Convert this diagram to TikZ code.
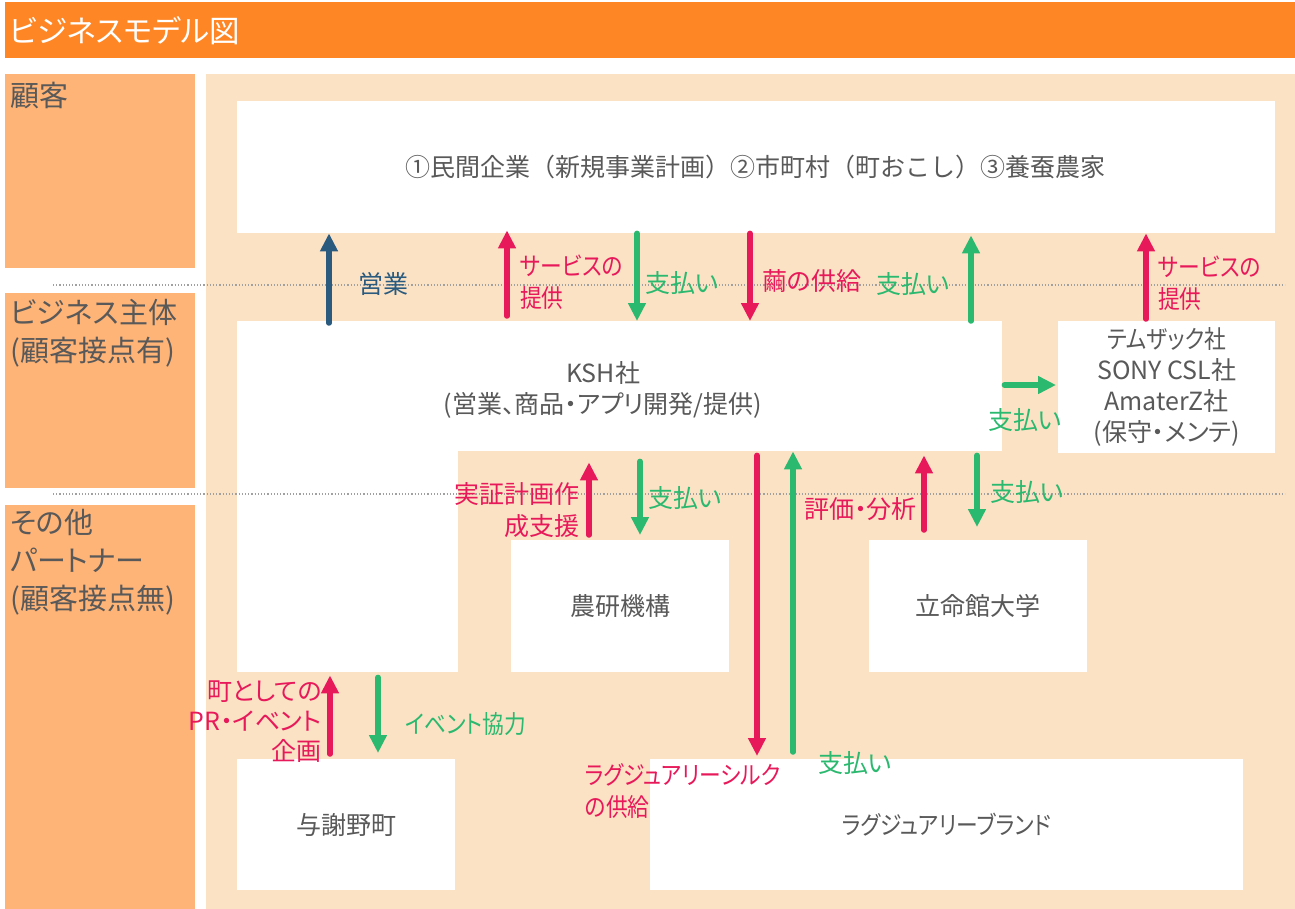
\documentclass[tikz,border=0pt]{standalone}
\usepackage{fontspec}
\setmainfont{Noto Sans CJK JP}
\newfontfamily\pfont{Noto Sans CJK JP}[RawFeature=+palt]
\newfontfamily\kfont{Noto Sans CJK JP}[RawFeature=+palt, FakeStretch=0.87]
\usetikzlibrary{arrows.meta,calc}
\definecolor{titleor}{HTML}{FF8624}
\definecolor{leftor}{HTML}{FFB477}
\definecolor{peach}{HTML}{FBE2C5}
\definecolor{txtgray}{HTML}{595959}
\definecolor{ared}{HTML}{E8195A}
\definecolor{agreen}{HTML}{2BB96F}
\definecolor{ablue}{HTML}{2A5A7E}
\definecolor{dotgray}{HTML}{A0A0A0}
\begin{document}
\begin{tikzpicture}[x=1pt,y=-1pt,
  wbox/.style={fill=white, draw=none, inner sep=0pt, anchor=north west},
  btext/.style={text=txtgray, font=\pfont\fontsize{25}{31}\selectfont, align=center, inner sep=0pt},
  lbox/.style={fill=leftor, draw=none, inner sep=0pt, anchor=north west},
  ltext/.style={text=txtgray, font=\pfont\fontsize{29}{38}\selectfont, align=left, inner sep=0pt, anchor=north west},
  arr/.style={line width=5.5pt, line cap=round, -{Triangle[width=17pt,length=18pt]}},
  lab/.style={font=\pfont\fontsize{25}{32}\selectfont, inner sep=0pt},
  klab/.style={font=\kfont\fontsize{25}{32}\selectfont, inner sep=0pt},
  dotline/.style={dotgray, line width=1.2pt, dash pattern=on 1.2pt off 2pt}
]
\useasboundingbox (0,0) rectangle (1295,909);
% title bar
\fill[titleor] (5,2) rectangle (1295,58);
\node[anchor=west, text=white, font=\pfont\fontsize{30.5}{36}\selectfont, inner sep=0pt] (title) at (9,31) {ビジネスモデル図};
% left column
\node[lbox, minimum width=190pt, minimum height=194pt] (lc1) at (5,74) {};
\node[lbox, minimum width=190pt, minimum height=195pt] (lc2) at (5,293) {};
\node[lbox, minimum width=190pt, minimum height=404pt] (lc3) at (5,505) {};
\node[ltext] (lt1) at (10,82) {顧客};
\node[ltext] (lt2) at (10,299) {ビジネス主体\\(顧客接点有)};
\node[ltext] (lt3) at (10,509) {その他\\パートナー\\(顧客接点無)};
% main background
\fill[peach] (206,74) rectangle (1295,909);
% white boxes
\node[wbox, minimum width=1038pt, minimum height=132pt] (cust) at (237,101) {};
\node[text=txtgray, font=\fontsize{25}{31}\selectfont, inner sep=0pt] (custt) at ($(cust.center)+(-1,0)$) {①民間企業（新規事業計画）②市町村（町おこし）③養蚕農家};
\node[wbox, minimum width=765pt, minimum height=130pt] (ksh) at (237,321) {};
\node[wbox, minimum width=221pt, minimum height=222pt] (blank) at (237,450) {};
\node[btext] (ksht) at (603,390) {KSH社\\(営業、商品・アプリ開発/提供)};
\node[wbox, minimum width=217pt, minimum height=132pt] (tem) at (1058,321) {};
\node[btext] (temt) at (tem.center) {{\kfont テムザック社}\\SONY CSL社\\AmaterZ社\\(保守・メンテ)};
\node[wbox, minimum width=218pt, minimum height=132pt] (nou) at (511,540) {};
\node[btext] (nout) at (nou.center) {農研機構};
\node[wbox, minimum width=218pt, minimum height=132pt] (rit) at (869,540) {};
\node[btext] (ritt) at (rit.center) {立命館大学};
\node[wbox, minimum width=218pt, minimum height=131pt] (yos) at (237,759) {};
\node[btext] (yost) at (yos.center) {与謝野町};
\node[wbox, minimum width=593pt, minimum height=131pt] (brand) at (650,759) {};
\node[btext, font=\kfont\fontsize{25}{31}\selectfont] (brandt) at (brand.center) {ラグジュアリーブランド};
% dotted separators
\draw[dotline] (53,285) -- (1285,285);
\draw[dotline] (53,494) -- (1285,494);
% arrows customer <-> KSH / partners
\draw[arr, ablue, shorten <=-2pt] (329,0 |- ksh.north) -- (329,0 |- cust.south);
\draw[arr, ared, shorten <=5pt, shorten >=-3pt] (507,0 |- ksh.north) -- (507,0 |- cust.south);
\draw[arr, agreen] (637,0 |- cust.south) -- (637,0 |- ksh.north);
\draw[arr, ared] (750,0 |- cust.south) -- (750,0 |- ksh.north);
\draw[arr, agreen, shorten >=2pt] (971,0 |- ksh.north) -- (971,0 |- cust.south);
\draw[arr, ared, shorten <=2pt] (1146,0 |- tem.north) -- (1146,0 |- cust.south);
\draw[arr, agreen, shorten <=2pt, shorten >=2pt] (ksh.east |- 0,385) -- (tem.west |- 0,385);
% arrows KSH <-> partners below
\draw[arr, ared, shorten <=5pt, shorten >=11pt] (589,0 |- nou.north) -- (589,0 |- ksh.south);
\draw[arr, agreen, shorten <=10pt, shorten >=5pt] (640,0 |- ksh.south) -- (640,0 |- nou.north);
\draw[arr, ared, shorten <=4pt, shorten >=3pt] (757,0 |- ksh.south) -- (757,0 |- brand.north);
\draw[arr, agreen, shorten <=7pt, shorten >=0pt] (793,0 |- brand.north) -- (793,0 |- ksh.south);
\draw[arr, ared, shorten <=10pt, shorten >=4pt] (924,0 |- rit.north) -- (924,0 |- ksh.south);
\draw[arr, agreen, shorten <=4pt, shorten >=13pt] (977,0 |- ksh.south) -- (977,0 |- rit.north);
\draw[arr, ared, shorten <=5pt, shorten >=3pt] (330,0 |- yos.north) -- (330,0 |- blank.south);
\draw[arr, agreen, shorten <=5pt, shorten >=6pt] (378,0 |- blank.south) -- (378,0 |- yos.north);
% labels
\node[lab, text=ablue, anchor=west] (l1) at (358,284) {営業};
\node[klab, text=ared, anchor=west, align=left] (l2) at (520,282) {サービスの\\提供};
\node[lab, text=agreen, anchor=west] (l3) at (645,283) {支払い};
\node[lab, text=ared, anchor=west] (l4) at (762,281) {繭の供給};
\node[lab, text=agreen, anchor=east] (l5) at (950,284) {支払い};
\node[klab, text=ared, anchor=west, align=left] (l6) at (1158,283) {サービスの\\提供};
\node[lab, text=agreen] (l7) at (1025,420) {支払い};
\node[lab, text=ared, anchor=east, align=right] (l8) at (580,510) {実証計画作\\成支援};
\node[lab, text=agreen, anchor=west] (l9) at (648,498) {支払い};
\node[klab, text=ared, anchor=west, align=left] (l10) at (585,791) {ラグジュアリーシルク\\の供給};
\node[lab, text=agreen] (l11) at (855,763) {支払い};
\node[lab, text=ared, anchor=east] (l12) at (917,509) {評価・分析};
\node[lab, text=agreen, anchor=west] (l13) at (990,492) {支払い};
\node[lab, text=ared, anchor=east, align=right, font=\pfont\fontsize{25}{30}\selectfont] (l14) at (322,722) {町としての\\PR・イベント\\企画};
\node[klab, text=agreen, anchor=west] (l15) at (405,724) {イベント協力};
\end{tikzpicture}
\end{document}
